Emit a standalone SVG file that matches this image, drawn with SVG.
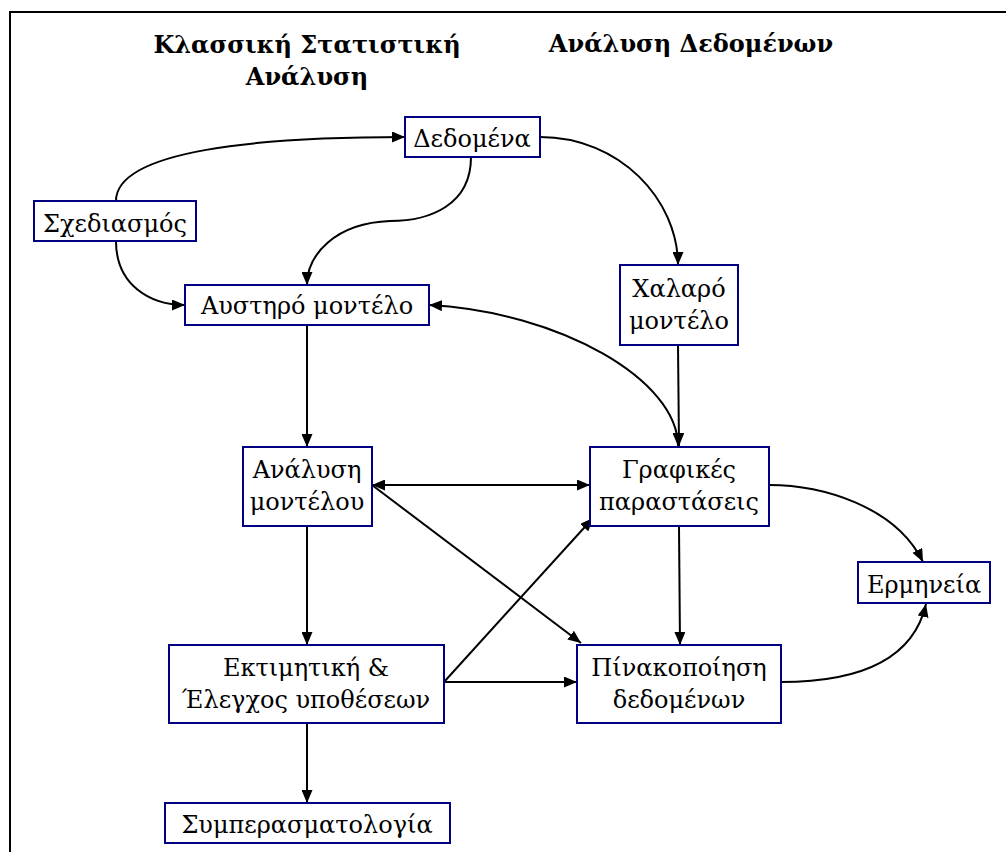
<svg xmlns="http://www.w3.org/2000/svg" width="1006" height="852" viewBox="0 0 1006 852">
<style>
  .box { fill: #ffffff; stroke: #000080; stroke-width: 2; }
  .t { font-family: 'DejaVu Serif', serif; font-size: 24px; fill: #000000; text-anchor: middle; }
  .title { font-family: 'DejaVu Serif', serif; font-size: 24px; font-weight: bold; fill: #000000; text-anchor: middle; }
  .c { fill: none; stroke: #000000; stroke-width: 2; }
  .frame { fill: none; stroke: #000000; stroke-width: 2; }
</style>
<defs>
  <marker id="arr" viewBox="0 0 13 11" refX="13" refY="5.5" markerWidth="13" markerHeight="11" markerUnits="userSpaceOnUse" orient="auto-start-reverse">
    <path d="M0,0 L13,5.5 L0,11 z" fill="#000000"/>
  </marker>
</defs>
<rect width="1006" height="852" fill="#ffffff"/>
<path class="frame" d="M10,852 L10,12 L1006,12"/>

<g id="titles">
  <text class="title" x="307" y="53">Κλασσική Στατιστική</text>
  <text class="title" x="307" y="85">Ανάλυση</text>
  <text class="title" x="691" y="52">Ανάλυση Δεδομένων</text>
</g>

<g id="connectors">
  <path class="c" marker-end="url(#arr)" d="M116,201 C116,150 260,137 405,137"/>
  <path class="c" marker-end="url(#arr)" d="M116,241 C116,285 150,305 185,305"/>
  <path class="c" marker-end="url(#arr)" d="M471,157 C471,205 430,221 390,221 C335,223 307,255 307,285"/>
  <path class="c" marker-end="url(#arr)" d="M540,137 C620,137 678,200 678,265"/>
  <path class="c" marker-end="url(#arr)" d="M307,325 L307,447"/>
  <path class="c" marker-end="url(#arr)" d="M678,345 L679,446"/>
  <path class="c" marker-start="url(#arr)" marker-end="url(#arr)" d="M429,305 C560,312 678,380 678,446"/>
  <path class="c" marker-start="url(#arr)" marker-end="url(#arr)" d="M372,485 L590,485"/>
  <path class="c" marker-end="url(#arr)" d="M372,485 L581,643"/>
  <path class="c" marker-end="url(#arr)" d="M444,682 L593,518"/>
  <path class="c" marker-end="url(#arr)" d="M444,682 L577,682"/>
  <path class="c" marker-end="url(#arr)" d="M679,526 L680,645"/>
  <path class="c" marker-end="url(#arr)" d="M769,485 C820,485 895,505 923,562"/>
  <path class="c" marker-end="url(#arr)" d="M781,682 C850,682 912,665 926,604"/>
  <path class="c" marker-end="url(#arr)" d="M307,526 L307,645"/>
  <path class="c" marker-end="url(#arr)" d="M307,723 L307,803"/>
</g>

<g id="n-dedomena">
  <rect class="box" x="405" y="117" width="135" height="40"/>
  <text class="t" x="472" y="147">Δεδομένα</text>
</g>
<g id="n-sxediasmos">
  <rect class="box" x="34" y="201" width="162" height="40"/>
  <text class="t" x="115" y="232">Σχεδιασμός</text>
</g>
<g id="n-afstiro">
  <rect class="box" x="185" y="285" width="244" height="40"/>
  <text class="t" x="307" y="314">Αυστηρό μοντέλο</text>
</g>
<g id="n-xalaro">
  <rect class="box" x="620" y="265" width="118" height="80"/>
  <text class="t" x="679" y="297">Χαλαρό</text>
  <text class="t" x="679" y="329">μοντέλο</text>
</g>
<g id="n-analysi">
  <rect class="box" x="243" y="447" width="129" height="79"/>
  <text class="t" x="307" y="478">Ανάλυση</text>
  <text class="t" x="307" y="510">μοντέλου</text>
</g>
<g id="n-grafikes">
  <rect class="box" x="590" y="447" width="179" height="79"/>
  <text class="t" x="679" y="478">Γραφικές</text>
  <text class="t" x="679" y="510">παραστάσεις</text>
</g>
<g id="n-ermineia">
  <rect class="box" x="858" y="562" width="132" height="41"/>
  <text class="t" x="924" y="593">Ερμηνεία</text>
</g>
<g id="n-ektimitiki">
  <rect class="box" x="169" y="645" width="275" height="78"/>
  <text class="t" x="306" y="676">Εκτιμητική &amp;</text>
  <text class="t" x="306" y="708">Έλεγχος υποθέσεων</text>
</g>
<g id="n-pinakopoiisi">
  <rect class="box" x="577" y="645" width="204" height="78"/>
  <text class="t" x="679" y="676">Πίνακοποίηση</text>
  <text class="t" x="679" y="708">δεδομένων</text>
</g>
<g id="n-symperasmatologia">
  <rect class="box" x="165" y="803" width="285" height="40"/>
  <text class="t" x="307" y="833">Συμπερασματολογία</text>
</g>
</svg>
